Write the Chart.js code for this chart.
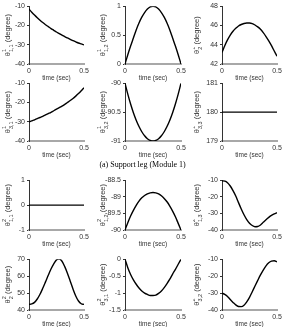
<!DOCTYPE html>
<html><head><meta charset="utf-8">
<script src="https://cdn.jsdelivr.net/npm/chart.js@4.4.1/dist/chart.umd.min.js"></script>
<style>
html,body{margin:0;padding:0;background:#fff;width:285px;height:327px;overflow:hidden;position:relative}
canvas{position:absolute}
#cap{position:absolute;left:0;width:285px;top:160px;text-align:center;font:8px "Liberation Serif",serif;color:#000;line-height:10px;-webkit-font-smoothing:antialiased;will-change:transform;transform:translateZ(0);opacity:0.99}
</style></head><body>
<div id="cap">(a) Support leg (Module 1)</div>
<script>
const time = [0,0.025,0.05,0.075,0.1,0.125,0.15,0.175,0.2,0.225,0.25,0.275,0.3,0.325,0.35,0.375,0.4,0.425,0.45,0.475,0.5];
const xTickValues = [0, 0.5];

const theta1_11 = [-11.5,-13.1,-14.6,-16.0,-17.3,-18.5,-19.6,-20.6,-21.6,-22.5,-23.4,-24.2,-25.0,-25.8,-26.5,-27.2,-27.9,-28.5,-29.1,-29.6,-30.1];
const theta1_12 = [0,0.16,0.31,0.45,0.59,0.71,0.81,0.89,0.95,0.99,1.0,0.99,0.95,0.89,0.81,0.71,0.59,0.45,0.31,0.16,0];
const theta1_2  = [43.2,43.9,44.5,45.0,45.4,45.7,45.95,46.1,46.2,46.25,46.25,46.2,46.05,45.85,45.6,45.25,44.85,44.4,43.9,43.35,42.8];
const theta1_31 = [-30.1,-29.6,-29.0,-28.4,-27.8,-27.2,-26.5,-25.8,-25.1,-24.3,-23.5,-22.7,-21.9,-21.0,-20.0,-19.0,-17.9,-16.7,-15.4,-13.9,-12.3];
const theta1_32 = [-90.0,-90.19,-90.36,-90.51,-90.64,-90.75,-90.84,-90.91,-90.96,-90.99,-91.0,-90.99,-90.96,-90.91,-90.84,-90.75,-90.64,-90.51,-90.36,-90.19,-90.0];
const theta1_33 = [180,180,180,180,180,180,180,180,180,180,180,180,180,180,180,180,180,180,180,180,180];
const theta2_11 = [0,0,0,0,0,0,0,0,0,0,0,0,0,0,0,0,0,0,0,0,0];
const theta2_12 = [-90.0,-89.78,-89.58,-89.41,-89.26,-89.13,-89.03,-88.96,-88.91,-88.88,-88.87,-88.88,-88.91,-88.97,-89.05,-89.15,-89.28,-89.43,-89.6,-89.8,-90.0];
const theta2_13 = [-10.3,-10.5,-11.5,-13.5,-16.3,-19.5,-23.5,-27.3,-30.8,-33.7,-35.9,-37.3,-38.0,-37.9,-37.0,-35.4,-33.8,-32.4,-31.2,-30.3,-29.6];
const theta2_2  = [43.3,43.6,44.5,46.5,49.3,52.8,56.6,60.5,64.2,67.3,69.6,70.2,68.8,65.6,61.6,57.0,52.4,48.3,45.3,43.7,43.3];
const theta2_31 = [0,-0.25,-0.45,-0.61,-0.74,-0.85,-0.94,-1.0,-1.04,-1.07,-1.07,-1.06,-1.01,-0.94,-0.84,-0.72,-0.59,-0.44,-0.3,-0.15,0];
const theta2_32 = [-30.0,-30.8,-32.0,-33.8,-35.5,-37.0,-37.9,-38.0,-37.2,-35.2,-32.5,-29.2,-25.8,-22.5,-19.3,-16.4,-13.9,-12.1,-11.1,-10.9,-11.6];

// y tick ranges: [min, max, step]
const yTicks1_11 = [-40,-10,10];
const yTicks1_12 = [0,1,0.5];
const yTicks1_2  = [42,48,2];
const yTicks1_31 = [-40,-10,10];
const yTicks1_32 = [-91,-90,0.5];
const yTicks1_33 = [179,181,1];
const yTicks2_11 = [-1,1,1];
const yTicks2_12 = [-90,-88.5,0.5];
const yTicks2_13 = [-40,-10,10];
const yTicks2_2  = [40,70,10];
const yTicks2_31 = [-1.5,0,0.5];
const yTicks2_32 = [-40,-10,10];

const panels = [
  {data:theta1_11, yt:yTicks1_11, sup:'1', sub:'1,1'},
  {data:theta1_12, yt:yTicks1_12, sup:'1', sub:'1,2'},
  {data:theta1_2,  yt:yTicks1_2,  sup:'1', sub:'2'},
  {data:theta1_31, yt:yTicks1_31, sup:'1', sub:'3,1'},
  {data:theta1_32, yt:yTicks1_32, sup:'1', sub:'3,2'},
  {data:theta1_33, yt:yTicks1_33, sup:'1', sub:'3,3'},
  {data:theta2_11, yt:yTicks2_11, sup:'2', sub:'1,1'},
  {data:theta2_12, yt:yTicks2_12, sup:'2', sub:'1,2'},
  {data:theta2_13, yt:yTicks2_13, sup:'2', sub:'1,3'},
  {data:theta2_2,  yt:yTicks2_2,  sup:'2', sub:'2'},
  {data:theta2_31, yt:yTicks2_31, sup:'2', sub:'3,1'},
  {data:theta2_32, yt:yTicks2_32, sup:'2', sub:'3,2'}
];

const FONT = '"Liberation Sans", Arial, sans-serif';
const yTitlePlugin = {
  id: 'ytitle',
  afterDraw(chart, args, opts) {
    const {ctx, chartArea} = chart;
    const cy = (chartArea.top + chartArea.bottom) / 2;
    ctx.save();
    ctx.translate(opts.x, cy);
    ctx.rotate(-Math.PI / 2);
    ctx.fillStyle = '#333';
    ctx.textBaseline = 'alphabetic';
    ctx.textAlign = 'left';
    const base = '7.5px ' + FONT, small = '5.5px ' + FONT;
    ctx.font = base;
    const wT = ctx.measureText('θ').width;
    const wD = ctx.measureText(' (degree)').width;
    ctx.font = small;
    const wS = Math.max(ctx.measureText(opts.sup).width, ctx.measureText(opts.sub).width);
    let x = -(wT + wS + wD) / 2;
    const y = 3;
    ctx.font = base; ctx.fillText('θ', x, y); x += wT;
    ctx.font = small; ctx.fillText(opts.sup, x, y - 4.5); ctx.fillText(opts.sub, x, y + 2.5); x += wS;
    ctx.font = base; ctx.fillText(' (degree)', x, y);
    ctx.restore();
  }
};

const colL = [29,125,222], colR = [84,181,277], titleX = [7,6,3];
const rowT = [5,82,179,258], rowB = [64,141,230,310];
const WY = 29, PT = 5, PR = 8, XH = 18;
const fmt = v => String(Math.round(v * 1000) / 1000);

panels.forEach((p, i) => {
  const r = Math.floor(i / 3), c = i % 3;
  const L = colL[c], R = colR[c], T = rowT[r], B = rowB[r];
  const w = WY + (R - L) + PR, h = PT + (B - T) + XH;
  const cv = document.createElement('canvas');
  cv.width = w; cv.height = h;
  cv.style.left = (L - WY) + 'px'; cv.style.top = (T - PT) + 'px';
  cv.style.width = w + 'px'; cv.style.height = h + 'px';
  document.body.appendChild(cv);
  new Chart(cv, {
    type: 'line',
    data: { datasets: [{
      data: time.map((t, k) => ({x: t, y: p.data[k]})),
      borderColor: '#000', borderWidth: 1.4, pointRadius: 0,
      cubicInterpolationMode: 'monotone', fill: false
    }]},
    options: {
      responsive: false, animation: false, devicePixelRatio: 1,
      layout: {padding: {top: PT, right: PR, left: 0, bottom: 0}},
      plugins: {legend: {display: false}, tooltip: {enabled: false},
        ytitle: {x: titleX[c], sup: p.sup, sub: p.sub}},
      scales: {
        x: {
          type: 'linear', min: 0, max: 0.5,
          afterBuildTicks: s => { s.ticks = xTickValues.map(v => ({value: v})); },
          afterFit: s => { s.height = XH; },
          grid: {drawOnChartArea: false, drawTicks: false},
          border: {color: '#a8a8a8', width: 2},
          ticks: {padding: 3, color: '#333', font: {family: FONT, size: 7}, maxRotation: 0, autoSkip: false, callback: fmt},
          title: {display: true, text: 'time (sec)', color: '#333', font: {family: FONT, size: 6.5}, padding: 0}
        },
        y: {
          type: 'linear', min: p.yt[0], max: p.yt[1],
          afterBuildTicks: s => {
            const arr = [];
            for (let v = p.yt[0]; v <= p.yt[1] + 1e-9; v += p.yt[2]) arr.push({value: Math.round(v * 1000) / 1000});
            s.ticks = arr;
          },
          afterFit: s => { s.width = WY; },
          grid: {drawOnChartArea: false, drawTicks: true, tickLength: 2, color: '#333'},
          border: {color: '#333', width: 1},
          ticks: {padding: 2, color: '#333', font: {family: FONT, size: 7}, callback: fmt}
        }
      }
    },
    plugins: [yTitlePlugin]
  });
});
</script>
</body></html>
